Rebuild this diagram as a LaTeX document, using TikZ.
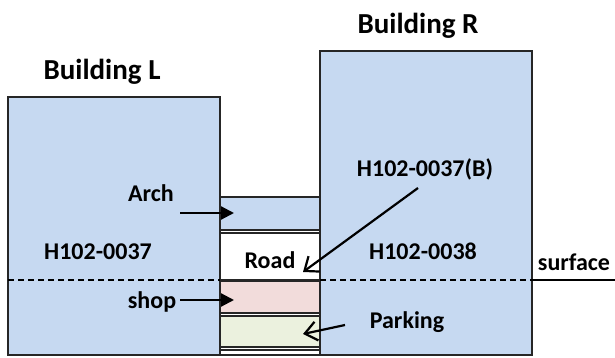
\documentclass[tikz,border=0pt]{standalone}
\usepackage{fontspec}
\setmainfont{Carlito}
\usepackage{tikz}
\usetikzlibrary{arrows.meta}
\definecolor{wallblue}{RGB}{198,217,241}
\definecolor{shoppink}{RGB}{242,220,219}
\definecolor{parkgreen}{RGB}{235,241,222}
\newcommand{\linew}{1.8pt}
\newcommand{\labsize}{\fontsize{24}{28}\selectfont\bfseries}
\newcommand{\bldsize}{\fontsize{29}{34}\selectfont\bfseries}

\begin{document}
\begin{tikzpicture}[x=1pt, y=-1pt]
                %\draw[help lines] (0,0) grid (615,358);
                \useasboundingbox (0,0) rectangle (615,358);
                \tikzset{block/.style = {draw=black!85, line width=\linew, rectangle, inner sep=0pt, outer sep=0pt}}
                \tikzset{lbl/.style = {font=\labsize, inner sep=0pt, anchor=base}}
                \tikzset{tri/.style = {line width=2.2pt, -{Triangle[length=13pt,width=13pt]}}}
                \tikzset{barb/.style = {line width=2.2pt, -{Straight Barb[length=12pt,width=19pt]}}}

                % the two buildings
                \node[block, fill=wallblue, minimum width=212pt, minimum height=258pt] (bldgl) at (114,226) {};
                \node[block, fill=wallblue, minimum width=212pt, minimum height=304pt] (bldgr) at (426,203) {};

                % the layers in between
                \begin{scope}[every node/.append style = {block, minimum width=100pt}]
                    \node[fill=wallblue, minimum height=33pt] (arch) at (270,213.5) {};
                    \node[fill=white, minimum height=47pt] (road) at (270,256.5) {};
                    \node[fill=shoppink, minimum height=32pt] (shop) at (270,297) {};
                    \node[fill=parkgreen, minimum height=31pt] (park) at (270,331.5) {};
                    \node[fill=white, minimum height=5pt] (rest) at (270,352.5) {};
                \end{scope}

                % surface
                \coordinate (sfc) at (0,280);
                \coordinate (sfend) at (615,280);
                \begin{scope}[line width=\linew, dash pattern=on 6pt off 4pt]
                    \draw (bldgl.west |- sfc) -- (bldgl.east |- sfc);
                    \draw (bldgr.west |- sfc) -- (bldgr.east |- sfc);
                \end{scope}
                \draw[line width=\linew] (bldgr.east |- sfc) -- (sfend);

                % texts
                \node[font=\bldsize, inner sep=0pt, anchor=base] (namel) at (102,80) {Building L};
                \node[font=\bldsize, inner sep=0pt, anchor=base] (namer) at (418,34) {Building R};
                \node[lbl] (archlbl) at (151,201) {Arch};
                \node[lbl] (codel) at (98,259) {H102-0037};
                \node[lbl] (shoplbl) at (152,308) {shop};
                \node[lbl] (roadlbl) at (270,268) {Road};
                \node[lbl] (codeb) at (425,177) {H102-0037(B)};
                \node[lbl] (coder) at (423,259) {H102-0038};
                \node[lbl] (surflbl) at (574,270) {surface};
                \node[lbl] (parklbl) at (407,328) {Parking};

                % arrows
                \coordinate (archtail) at (180,213);
                \coordinate (archtip) at (234,213);
                \coordinate (shoptail) at (180,300);
                \coordinate (shoptip) at (234,300);
                \coordinate (roadtail) at (418,188);
                \coordinate (roadtip) at (303,272);
                \coordinate (parktail) at (345,325);
                \coordinate (parktip) at (303,334);
                \draw[tri] (archtail) -- (archtip);
                \draw[tri] (shoptail) -- (shoptip);
                \draw[barb] (roadtail) -- (roadtip);
                \draw[barb] (parktail) -- (parktip);
\end{tikzpicture}
\end{document}
